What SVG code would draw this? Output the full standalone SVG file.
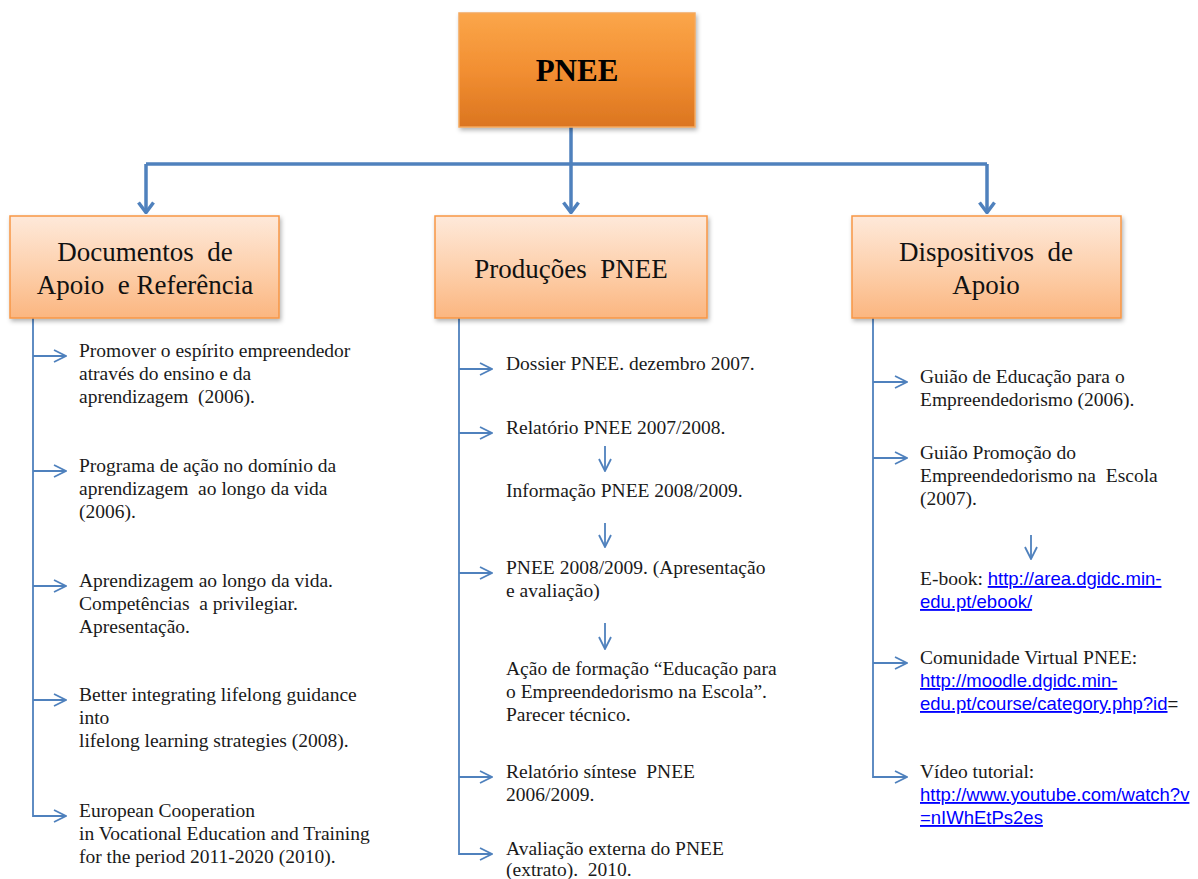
<svg xmlns="http://www.w3.org/2000/svg" width="1198" height="879" viewBox="0 0 1198 879">
<style>
.conn{fill:none;stroke:#4F81BD;stroke-width:3.5}
.thin{fill:none;stroke:#4F81BD;stroke-width:1.8}
.item{font-family:"Liberation Serif","Times New Roman",serif;font-size:19.5px;fill:#1a1a1a}
.title{font-family:"Liberation Serif","Times New Roman",serif;font-size:27px;fill:#111;text-anchor:middle}
.link{font-family:"Liberation Sans",Arial,sans-serif;font-size:18.5px;fill:#0000FF;text-decoration:underline}
.plain{font-family:"Liberation Sans",Arial,sans-serif;font-size:18.5px;fill:#1a1a1a}
</style>
<defs>
<linearGradient id="gTop" x1="0" y1="0" x2="0" y2="1">
<stop offset="0" stop-color="#FBA64A"/>
<stop offset="0.5" stop-color="#F28F32"/>
<stop offset="1" stop-color="#DB7520"/>
</linearGradient>
<linearGradient id="gChild" x1="0" y1="0" x2="0" y2="1">
<stop offset="0" stop-color="#FEE9DA"/>
<stop offset="0.5" stop-color="#FDD1AE"/>
<stop offset="1" stop-color="#FBB680"/>
</linearGradient>
<filter id="sh" x="-10%" y="-10%" width="125%" height="130%">
<feDropShadow dx="1.5" dy="2.5" stdDeviation="2" flood-color="#000" flood-opacity="0.3"/>
</filter>
<marker id="mBig" viewBox="0 0 18 13" refX="9" refY="12" markerWidth="18" markerHeight="13" markerUnits="userSpaceOnUse" orient="0">
<path d="M1.5 1.5 L9 11.5 L16.5 1.5" fill="none" stroke="#4F81BD" stroke-width="3.5"/>
</marker>
<marker id="mSide" viewBox="0 0 14 14" refX="13" refY="7" markerWidth="14" markerHeight="14" markerUnits="userSpaceOnUse" orient="auto">
<path d="M1 1 L13 7 L1 13" fill="none" stroke="#4F81BD" stroke-width="1.8"/>
</marker>
</defs>
<rect width="1198" height="879" fill="#fff"/>

<g id="connectors">
<path class="conn" d="M571 127 V164"/>
<path class="conn" d="M146 164 H987"/>
<path class="conn" d="M146 164 V213" marker-end="url(#mBig)"/>
<path class="conn" d="M571 164 V213" marker-end="url(#mBig)"/>
<path class="conn" d="M987 164 V213" marker-end="url(#mBig)"/>
<path class="thin" d="M33 318 V816 H66" marker-end="url(#mSide)"/>
<path class="thin" d="M33 356 H66" marker-end="url(#mSide)"/>
<path class="thin" d="M33 471 H66" marker-end="url(#mSide)"/>
<path class="thin" d="M33 586 H66" marker-end="url(#mSide)"/>
<path class="thin" d="M33 700 H66" marker-end="url(#mSide)"/>
<path class="thin" d="M459 318 V854 H492" marker-end="url(#mSide)"/>
<path class="thin" d="M459 369 H492" marker-end="url(#mSide)"/>
<path class="thin" d="M459 433 H492" marker-end="url(#mSide)"/>
<path class="thin" d="M459 573 H492" marker-end="url(#mSide)"/>
<path class="thin" d="M459 777 H492" marker-end="url(#mSide)"/>
<path class="thin" d="M605 446 V471" marker-end="url(#mSide)"/>
<path class="thin" d="M605 523 V547" marker-end="url(#mSide)"/>
<path class="thin" d="M605 623 V649" marker-end="url(#mSide)"/>
<path class="thin" d="M873 318 V777 H907" marker-end="url(#mSide)"/>
<path class="thin" d="M873 382 H907" marker-end="url(#mSide)"/>
<path class="thin" d="M873 458 H907" marker-end="url(#mSide)"/>
<path class="thin" d="M873 663 H907" marker-end="url(#mSide)"/>
<path class="thin" d="M1031 535 V559" marker-end="url(#mSide)"/>
</g>

<g id="node-pnee">
<rect x="459" y="13" width="236" height="114" fill="url(#gTop)" stroke="#F4A85E" stroke-width="1.5" filter="url(#sh)"/>
<text x="577" y="81" font-family="Liberation Serif,'Times New Roman',serif" font-size="31" font-weight="bold" text-anchor="middle" fill="#000">PNEE</text>
</g>

<g id="node-documentos">
<rect x="10" y="216" width="269" height="102" fill="url(#gChild)" stroke="#F79646" stroke-width="1.5" filter="url(#sh)"/>
<text class="title" x="145" y="261" xml:space="preserve">Documentos  de</text>
<text class="title" x="145" y="294" xml:space="preserve">Apoio  e Referência</text>
</g>

<g id="node-producoes">
<rect x="435" y="216" width="272" height="102" fill="url(#gChild)" stroke="#F79646" stroke-width="1.5" filter="url(#sh)"/>
<text class="title" x="571" y="278" xml:space="preserve">Produções  PNEE</text>
</g>

<g id="node-dispositivos">
<rect x="852" y="216" width="269" height="102" fill="url(#gChild)" stroke="#F79646" stroke-width="1.5" filter="url(#sh)"/>
<text class="title" x="986" y="261" xml:space="preserve">Dispositivos  de</text>
<text class="title" x="986" y="294">Apoio</text>
</g>

<g id="items-documentos">
<text class="item" x="79" y="357">Promover o espírito empreendedor</text>
<text class="item" x="79" y="380">através do ensino e da</text>
<text class="item" x="79" y="403" xml:space="preserve">aprendizagem  (2006).</text>
<text class="item" x="79" y="472">Programa de ação no domínio da</text>
<text class="item" x="79" y="495" xml:space="preserve">aprendizagem  ao longo da vida</text>
<text class="item" x="79" y="518">(2006).</text>
<text class="item" x="79" y="587">Aprendizagem ao longo da vida.</text>
<text class="item" x="79" y="610" xml:space="preserve">Competências  a privilegiar.</text>
<text class="item" x="79" y="633">Apresentação.</text>
<text class="item" x="79" y="701">Better integrating lifelong guidance</text>
<text class="item" x="79" y="724">into</text>
<text class="item" x="79" y="747">lifelong learning strategies (2008).</text>
<text class="item" x="79" y="817">European Cooperation</text>
<text class="item" x="79" y="840">in Vocational Education and Training</text>
<text class="item" x="79" y="863">for the period 2011-2020 (2010).</text>
</g>

<g id="items-producoes">
<text class="item" x="506" y="370">Dossier PNEE. dezembro 2007.</text>
<text class="item" x="506" y="434">Relatório PNEE 2007/2008.</text>
<text class="item" x="506" y="497">Informação PNEE 2008/2009.</text>
<text class="item" x="506" y="574">PNEE 2008/2009. (Apresentação</text>
<text class="item" x="506" y="597">e avaliação)</text>
<text class="item" x="506" y="675">Ação de formação “Educação para</text>
<text class="item" x="506" y="698">o Empreendedorismo na Escola”.</text>
<text class="item" x="506" y="721">Parecer técnico.</text>
<text class="item" x="506" y="778" xml:space="preserve">Relatório síntese  PNEE</text>
<text class="item" x="506" y="801">2006/2009.</text>
<text class="item" x="506" y="855">Avaliação externa do PNEE</text>
<text class="item" x="506" y="876" xml:space="preserve">(extrato).  2010.</text>
</g>

<g id="items-dispositivos">
<text class="item" x="920" y="383">Guião de Educação para o</text>
<text class="item" x="920" y="406">Empreendedorismo (2006).</text>
<text class="item" x="920" y="459">Guião Promoção do</text>
<text class="item" x="920" y="482" xml:space="preserve">Empreendedorismo na  Escola</text>
<text class="item" x="920" y="505">(2007).</text>
<text x="920" y="585"><tspan class="item">E-book: </tspan><tspan class="link">http://area.dgidc.min-</tspan></text>
<text class="link" x="920" y="608">edu.pt/ebook/</text>
<text class="item" x="920" y="664">Comunidade Virtual PNEE:</text>
<text class="link" x="920" y="687">http://moodle.dgidc.min-</text>
<text x="920" y="710"><tspan class="link">edu.pt/course/category.php?id</tspan><tspan class="plain">=</tspan></text>
<text class="item" x="920" y="778">Vídeo tutorial:</text>
<text class="link" x="920" y="801">http://www.youtube.com/watch?v</text>
<text class="link" x="920" y="824">=nIWhEtPs2es</text>
</g>
</svg>
